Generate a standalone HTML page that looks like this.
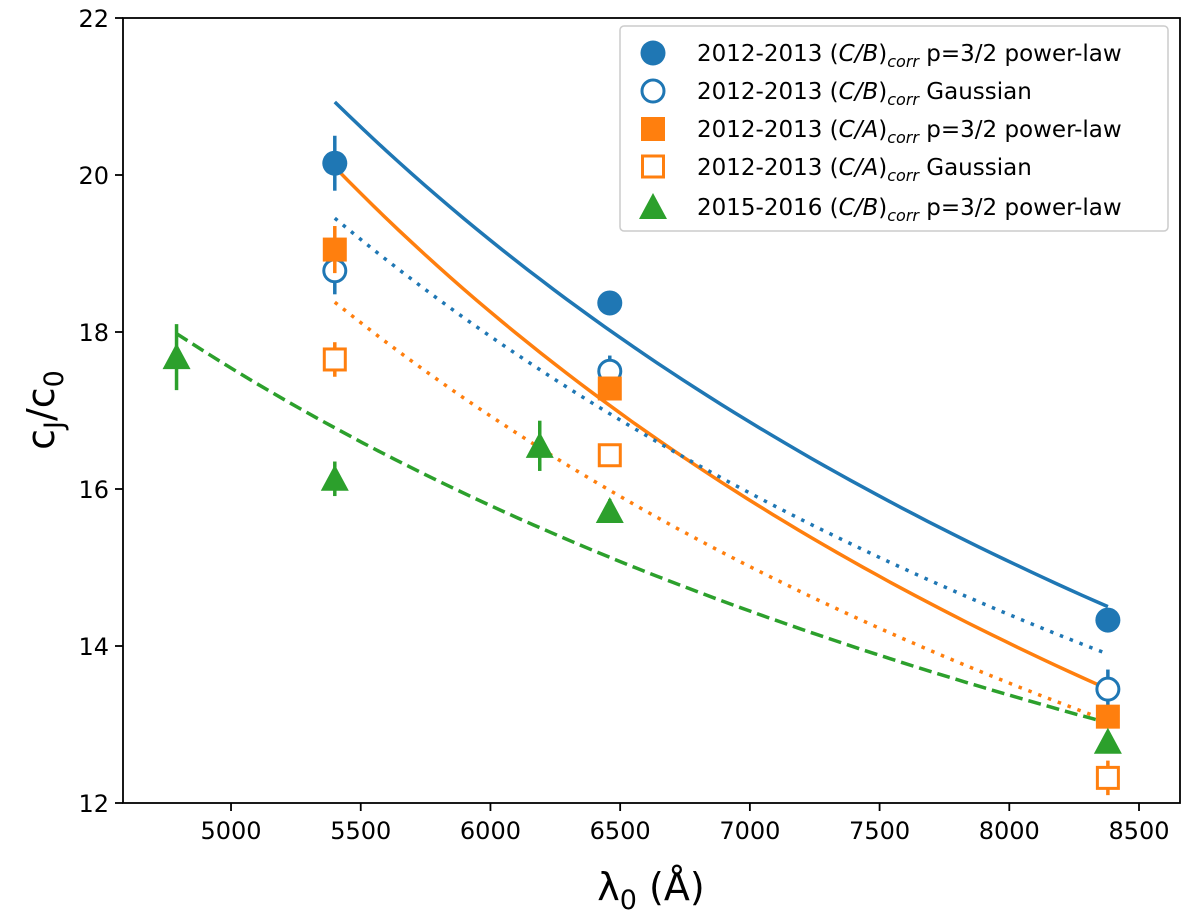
<!DOCTYPE html>
<html><head><meta charset="utf-8"><style>
body{margin:0;background:#fff}
svg{font-family:"DejaVu Sans","Liberation Sans",sans-serif}
</style></head><body>
<svg id="chart" width="1200" height="916" xmlns="http://www.w3.org/2000/svg"></svg>
<script>
const xTicks=[5000,5500,6000,6500,7000,7500,8000,8500];
const yTicks=[12,14,16,18,20,22];
const bfX=[5400,6460,8380], bfY=[20.15,18.37,14.33], bfE=[0.35,0.12,0.12];
const boX=[5400,6460,8380], boY=[18.78,17.5,13.45], boE=[0.3,0.2,0.25];
const ofX=[5400,6460,8380], ofY=[19.05,17.28,13.1], ofE=[0.3,0.15,0.15];
const ooX=[5400,6460,8380], ooY=[17.65,16.43,12.32], ooE=[0.22,0.12,0.22];
const gX=[4790,5400,6190,6460,8380], gY=[17.68,16.13,16.55,15.72,12.78], gE=[0.42,0.22,0.32,0.15,0.1];
// fit curves: [start λ, end λ, value at start, exponent]
const fitBlueSolid=[5400,8380,20.93,0.835];
const fitOrangeSolid=[5400,8380,20.1,0.914];
const fitBlueDot=[5400,8380,19.45,0.765];
const fitOrangeDot=[5400,8380,18.38,0.78];
const fitGreenDash=[4790,8380,17.98,0.577];

const svg=document.getElementById('chart');
const NS='http://www.w3.org/2000/svg';
const L=123,R=1180,T=18,B=803,XMIN=4583.6,XMAX=8658,YMIN=12,YMAX=22;
const sx=v=>L+(v-XMIN)/(XMAX-XMIN)*(R-L);
const sy=v=>B-(v-YMIN)/(YMAX-YMIN)*(B-T);
function el(tag,attrs,parent){const e=document.createElementNS(NS,tag);for(const k in attrs)e.setAttribute(k,attrs[k]);(parent||svg).appendChild(e);return e;}
const BLUE='#1f77b4',ORANGE='#ff7f0e',GREEN='#2ca02c';

function fit(f,color,dash,name){
  let d='';const n=60;
  for(let i=0;i<=n;i++){const l=f[0]+(f[1]-f[0])*i/n;const v=f[2]*Math.pow(l/f[0],-f[3]);d+=(i?'L':'M')+sx(l).toFixed(1)+' '+sy(v).toFixed(1);}
  const p=el('path',{d:d,fill:'none',stroke:color,'stroke-width':3.5,'stroke-dasharray':dash});
  
  
}
fit(fitBlueSolid,BLUE,'none','fit-blue-powerlaw');
fit(fitOrangeSolid,ORANGE,'none','fit-orange-powerlaw');
fit(fitBlueDot,BLUE,'3.5 7','fit-blue-gaussian');
fit(fitOrangeDot,ORANGE,'3.5 7','fit-orange-gaussian');
fit(fitGreenDash,GREEN,'13 6','fit-green-powerlaw');

function marker(kind,color,x,y,g){
  if(kind==='circle'||kind==='ocircle') return el('circle',{cx:x,cy:y,r:kind==='circle'?12.5:11,fill:kind==='circle'?color:'#fff',stroke:color,'stroke-width':kind==='circle'?0:3},g);
  if(kind==='square'||kind==='osquare'){const s=kind==='square'?24:21;return el('rect',{x:x-s/2,y:y-s/2,width:s,height:s,fill:kind==='square'?color:'#fff',stroke:color,'stroke-width':kind==='square'?0:3},g);}
  return el('polygon',{points:`${x},${y-14} ${x+14},${y+12} ${x-14},${y+12}`,fill:color},g);
}
function series(xs,ys,es,kind,color,name){
  const g=el('g',{});
  
  
  xs.forEach((xv,i)=>{
    const x=sx(xv);
    el('line',{x1:x,x2:x,y1:sy(ys[i]+es[i]),y2:sy(ys[i]-es[i]),stroke:color,'stroke-width':3.5},g);
    const m=marker(kind,color,x,sy(ys[i]),g);
    
    
  });
}
series(bfX,bfY,bfE,'circle',BLUE,'blue-powerlaw-points');
series(boX,boY,boE,'ocircle',BLUE,'blue-gaussian-points');
series(ofX,ofY,ofE,'square',ORANGE,'orange-powerlaw-points');
series(ooX,ooY,ooE,'osquare',ORANGE,'orange-gaussian-points');
series(gX,gY,gE,'tri',GREEN,'green-powerlaw-points');

const fr=el('rect',{x:L,y:T,width:R-L,height:B-T,fill:'none',stroke:'#000','stroke-width':1.8});

xTicks.forEach(v=>{const x=sx(v);el('line',{x1:x,x2:x,y1:B,y2:B+8,stroke:'#000','stroke-width':1.8});
  const t=el('text',{x:x,y:B+36,'text-anchor':'middle','font-size':24});t.textContent=v;
  });
yTicks.forEach(v=>{const y=sy(v);el('line',{x1:L-8,x2:L,y1:y,y2:y,stroke:'#000','stroke-width':1.8});
  const t=el('text',{x:L-14,y:y+9,'text-anchor':'end','font-size':24});t.textContent=v;
  });
</script>
<svg style="position:absolute;left:0;top:0" width="1200" height="916" xmlns="http://www.w3.org/2000/svg" font-family="DejaVu Sans, Liberation Sans, sans-serif">
<text x="651" y="900" text-anchor="middle" font-size="38">λ<tspan font-size="27" dy="9">0</tspan><tspan dy="-9"> (Å)</tspan></text>
<text transform="translate(54,410) rotate(-90)" text-anchor="middle" font-size="38">c<tspan font-size="27" dy="9">J</tspan><tspan dy="-9">/c</tspan><tspan font-size="27" dy="9">0</tspan></text>
<g>
<rect x="620" y="26" width="548" height="205" rx="4" fill="#fff" fill-opacity="0.85" stroke="#ccc" stroke-width="1.5"/>
<circle cx="653" cy="53" r="12.5" fill="#1f77b4"/>
<circle cx="653" cy="91" r="11" fill="#fff" stroke="#1f77b4" stroke-width="3"/>
<rect x="641" y="117" width="24" height="24" fill="#ff7f0e"/>
<rect x="642.5" y="156" width="21" height="21" fill="#fff" stroke="#ff7f0e" stroke-width="3"/>
<polygon points="653,193 667,219 639,219" fill="#2ca02c"/>
<g font-size="23" fill="#000">
<text x="697" y="61">2012-2013 (<tspan font-style="italic">C/B</tspan>)<tspan font-style="italic" font-size="16" dy="6">corr</tspan><tspan dy="-6"> p=3/2 power-law</tspan></text>
<text x="697" y="99">2012-2013 (<tspan font-style="italic">C/B</tspan>)<tspan font-style="italic" font-size="16" dy="6">corr</tspan><tspan dy="-6"> Gaussian</tspan></text>
<text x="697" y="137">2012-2013 (<tspan font-style="italic">C/A</tspan>)<tspan font-style="italic" font-size="16" dy="6">corr</tspan><tspan dy="-6"> p=3/2 power-law</tspan></text>
<text x="697" y="175">2012-2013 (<tspan font-style="italic">C/A</tspan>)<tspan font-style="italic" font-size="16" dy="6">corr</tspan><tspan dy="-6"> Gaussian</tspan></text>
<text x="697" y="215">2015-2016 (<tspan font-style="italic">C/B</tspan>)<tspan font-style="italic" font-size="16" dy="6">corr</tspan><tspan dy="-6"> p=3/2 power-law</tspan></text>
</g>
</g>
</svg>
</body></html>
